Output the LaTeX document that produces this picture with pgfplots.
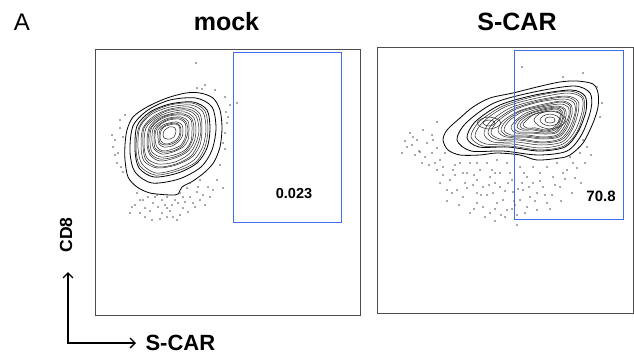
\documentclass[border=0pt]{standalone}
\usepackage{fontspec}
\setmainfont{Liberation Sans}
\usepackage{pgfplots}
\pgfplotsset{compat=1.18}
\usetikzlibrary{arrows.meta}
\definecolor{gate}{RGB}{66,110,235}
\begin{document}
\begin{tikzpicture}
\useasboundingbox (0pt,0pt) rectangle (634pt,-356pt);
\pgfplotsset{
  flow/.style={scale only axis, anchor=north west, axis line style={black!70, line width=0.8pt},
    ticks=none, clip=true, ymin=0, ymax=266},
  cont/.style={black!85, line width=0.5pt, smooth cycle},
  outc/.style={black, line width=0.8pt, smooth cycle},
  dots/.style={only marks, mark=*, mark size=0.5pt, mark options={draw=black!60, fill=black!60}},
  gatebox/.style={gate, line width=1pt},
}
% ---------------- mock ----------------
\begin{axis}[flow, at={(95pt,-49pt)}, width=265pt, height=266pt, xmin=0, xmax=265]
\addplot[gatebox] coordinates {(138,93) (246,93) (246,263) (138,263) (138,93)};
\addplot[dots] coordinates {(101,252) (102,227) (107,226) (130,218) (142,212) (131,203) (133,198) (132,192) (130,182) (128,172) (130,166) (128,127)
 (25,187) (28,178) (20,175) (18,168) (23,162) (26,148) (28,143) (22,152)
 (35,102) (45,102) (50,107) (45,115) (53,118) (58,112) (63,108) (67,102) (72,107) (77,110) (80,115) (83,112) (78,98) (88,107)
 (95,118) (98,112) (105,115) (102,123) (110,110) (115,118) (95,132) (105,135) (113,128) (42,122) (48,115) (62,120) (72,118)
 (85,122) (92,127) (57,95) (72,98) (37,108) (85,100) (67,115)
 (40,110) (55,104) (60,118) (65,96) (70,110) (75,104) (90,113) (93,103) (100,108) (108,120) (118,125) (122,135) (125,150)
 (20,160) (17,180) (25,195) (30,200) (110,230) (120,225) (135,210) (50,98) (82,95) (88,118) (103,128)};
\addplot[outc] coordinates {(105,222) (118,217) (125,205) (127,187) (125,168) (119,153) (110,143) (98,134) (87,128) (83,121) (75,120) (55,122) (42,128) (33,138) (30,155) (30,170) (32,185) (38,198) (52,208) (72,217) (91,222)};
\addplot[outc] coordinates {(101,217) (117,208) (121,187) (117,165) (106,148) (84,136) (57,132) (40,143) (35,163) (38,189) (53,205) (75,215)};
\addplot[outc] coordinates {(98,213) (112,205) (115,186) (112,167) (102,152) (83,142) (59,138) (44,147) (40,165) (42,189) (55,203) (75,211)};
\addplot[cont] coordinates {(97,212) (110,204) (113,186) (110,168) (101,153) (82,144) (60,140) (45,149) (41,166) (44,188) (56,202) (75,210)};
\addplot[cont] coordinates {(96,210) (108,203) (111,186) (108,169) (99,155) (82,146) (61,142) (47,151) (43,167) (45,188) (57,201) (75,208)};
\addplot[cont] coordinates {(94,208) (105,201) (107,186) (105,170) (97,158) (81,150) (62,147) (49,154) (46,169) (48,187) (59,199) (75,206)};
\addplot[cont] coordinates {(93,206) (103,200) (106,185) (103,171) (96,159) (81,151) (63,148) (51,155) (48,169) (49,187) (60,198) (75,205)};
\addplot[cont] coordinates {(91,205) (101,199) (104,185) (101,172) (94,161) (80,153) (63,151) (52,157) (49,170) (51,187) (61,197) (75,203)};
\addplot[cont] coordinates {(90,203) (99,197) (101,185) (99,173) (92,163) (80,157) (65,154) (55,160) (52,172) (54,187) (62,196) (75,201)};
\addplot[cont] coordinates {(89,201) (97,196) (99,185) (97,174) (91,164) (79,158) (65,156) (56,161) (53,172) (55,186) (63,195) (74,200)};
\addplot[cont] coordinates {(88,200) (96,195) (97,185) (96,174) (90,165) (79,160) (66,158) (57,163) (55,173) (56,186) (63,194) (74,199)};
\addplot[cont] coordinates {(86,198) (93,194) (94,185) (93,175) (88,168) (78,163) (67,161) (59,166) (57,174) (58,186) (65,193) (74,197)};
\addplot[cont] coordinates {(85,197) (91,193) (93,184) (91,176) (87,169) (78,164) (67,163) (60,167) (59,175) (60,186) (66,192) (74,196)};
\addplot[cont] coordinates {(84,196) (90,192) (91,184) (90,177) (86,170) (78,166) (68,164) (62,168) (60,176) (61,185) (66,191) (74,195)};
\addplot[cont] coordinates {(82,193) (87,190) (88,184) (87,178) (83,173) (77,169) (69,168) (64,171) (63,177) (63,185) (68,190) (74,192)};
\addplot[cont] coordinates {(81,192) (85,189) (86,184) (85,178) (82,174) (77,171) (70,170) (65,172) (64,178) (65,185) (69,189) (74,191)};
\addplot[cont] coordinates {(80,191) (84,189) (85,184) (84,179) (81,175) (76,172) (70,171) (66,174) (65,178) (66,184) (69,188) (74,190)};
\addplot[cont] coordinates {(78,188) (80,187) (81,184) (80,180) (79,178) (75,176) (72,176) (69,177) (68,180) (69,184) (71,186) (74,188)};
\node[font=\bfseries\fontsize{14.5}{17}\selectfont, anchor=base] at (axis cs:199,117) {0.023};
\end{axis}
% ---------------- S-CAR ----------------
\begin{axis}[flow, at={(377pt,-47pt)}, width=256pt, height=266pt, xmin=0, xmax=256]
\addplot[dots] coordinates {(30,166) (35,168) (40,173) (43,161) (50,170) (55,160) (60,165) (56,173) (48,156) (63,153) (66,146) (60,143)
 (73,133) (76,143) (83,150) (90,140) (93,150) (100,133) (103,143) (106,126) (110,150) (113,136) (116,120) (120,110) (123,126)
 (126,113) (130,103) (133,140) (136,121) (106,106) (113,100) (100,110) (93,100) (86,116) (80,123) (70,123) (63,130)
 (143,146) (150,136) (146,123) (153,116) (156,130) (163,140) (166,126) (170,146) (176,136) (180,150) (183,126) (190,143)
 (193,156) (196,150) (203,160) (206,173) (210,166) (150,106) (143,113) (160,103) (170,110) (123,140) (130,150) (156,146) (120,153)
 (145,246) (186,236) (206,240) (220,226) (225,210) (223,196) (46,183) (36,176) (60,191)
 (96,128) (110,118) (118,130) (128,122) (138,108) (145,130) (160,120) (175,118) (140,98) (100,120) (88,130) (78,138)
 (70,112) (58,150) (68,160) (100,150) (115,143) (135,133) (186,140) (198,135) (118,104) (128,96) (135,104) (148,100)
 (75,120) (82,108) (90,125) (97,138) (104,118) (108,96) (112,128) (118,140) (124,98) (131,130) (137,112) (141,124)
 (147,140) (152,126) (158,112) (163,132) (168,118) (173,104) (178,128) (184,112) (188,134) (195,120) (200,145) (204,130)
 (208,150) (214,158) (140,88) (118,92) (97,104) (86,140) (78,148) (66,138) (52,148) (45,150) (38,158) (25,160) (28,172)
 (33,180) (42,162) (55,178)};
\addplot[outc] coordinates {(200,232) (216,229) (221,220) (221,206) (216,190) (206,170) (193,158) (183,155) (160,153) (143,158) (120,160) (103,158) (83,158) (71,163) (66,173) (70,183) (83,195) (96,206) (113,215) (136,220) (160,226) (183,231)};
\addplot[outc] coordinates {(197,227) (213,220) (214,204) (205,179) (190,162) (161,158) (126,162) (94,162) (80,173) (89,190) (117,210) (157,221)};
\addplot[outc] coordinates {(194,223) (208,217) (209,202) (201,181) (188,166) (162,162) (131,166) (102,166) (90,175) (98,191) (123,208) (158,218)};
\addplot[cont] coordinates {(192,222) (206,216) (207,202) (200,181) (187,167) (163,163) (133,167) (106,167) (94,176) (102,191) (126,207) (159,217)};
\addplot[cont] coordinates {(191,220) (205,215) (205,201) (198,182) (186,169) (163,165) (135,169) (109,169) (98,177) (106,191) (128,206) (160,215)};
\addplot[cont] coordinates {(189,217) (201,212) (201,200) (195,183) (185,171) (164,168) (139,171) (116,171) (107,179) (113,191) (133,205) (161,213)};
\addplot[cont] coordinates {(188,216) (199,211) (199,200) (194,184) (184,173) (165,170) (141,173) (120,173) (111,180) (117,191) (136,204) (162,212)};
\addplot[cont] coordinates {(187,214) (197,210) (198,200) (192,184) (183,174) (165,171) (143,174) (123,174) (114,180) (120,191) (137,203) (162,211)};
\addplot[cont] coordinates {(185,212) (194,208) (195,199) (190,185) (182,176) (166,174) (147,176) (129,176) (121,182) (126,192) (142,202) (163,208)};
\addplot[cont] coordinates {(184,211) (193,207) (193,198) (189,186) (181,177) (166,175) (148,177) (131,177) (124,183) (129,192) (144,202) (164,207)};
\addplot[cont] coordinates {(183,209) (191,206) (192,198) (187,186) (180,178) (166,176) (150,178) (134,178) (127,183) (132,192) (145,201) (164,206)};
\addplot[cont] coordinates {(181,207) (188,204) (189,197) (185,187) (179,180) (167,179) (153,180) (139,180) (134,185) (138,192) (149,200) (165,205)};
\addplot[cont] coordinates {(181,206) (187,203) (187,197) (184,188) (178,181) (167,180) (154,181) (142,181) (137,185) (140,192) (151,199) (166,204)};
\addplot[cont] coordinates {(180,205) (185,202) (186,197) (183,188) (178,183) (168,181) (156,183) (145,183) (140,186) (143,192) (153,199) (166,203)};
\addplot[cont] coordinates {(179,204) (184,201) (184,196) (182,189) (177,184) (168,182) (157,184) (147,184) (143,187) (146,192) (155,198) (167,202)};
\addplot[cont] coordinates {(178,202) (183,200) (183,196) (180,189) (176,185) (168,183) (159,185) (150,185) (146,188) (149,192) (156,198) (167,201)};
\addplot[cont] coordinates {(189,193) (184,199) (173,202) (162,199) (157,193) (162,187) (173,184) (184,187)};
\addplot[cont] coordinates {(183,193) (180,197) (173,199) (166,197) (163,193) (166,189) (173,187) (180,189)};
\addplot[cont] coordinates {(178,193) (177,195) (173,196) (169,195) (168,193) (169,191) (173,190) (177,191)};
\addplot[cont] coordinates {(124,190) (120,194) (112,196) (104,194) (100,190) (104,186) (112,184) (120,186)};
\addplot[cont] coordinates {(118,190) (116,192) (112,193) (108,192) (106,190) (108,188) (112,187) (116,188)};
\addplot[gatebox] coordinates {(137,94) (246,94) (246,263) (137,263) (137,94)};
\node[font=\bfseries\fontsize{15}{18}\selectfont, anchor=base] at (axis cs:224,112) {70.8};
\end{axis}
% ---------------- annotations ----------------
\node[font=\fontsize{24}{28}\selectfont, anchor=base] at (22pt,-30pt) {A};
\node[font=\bfseries\fontsize{25}{30}\selectfont, anchor=base] at (226.5pt,-30pt) {mock};
\node[font=\bfseries\fontsize{25}{30}\selectfont, anchor=base] at (517pt,-30pt) {S-CAR};
\node[font=\bfseries\fontsize{17.5}{21}\selectfont, rotate=90] at (66pt,-235pt) {CD8};
\node[font=\bfseries\fontsize{22}{26}\selectfont, anchor=base west] at (142pt,-350pt) {S-CAR};
\draw[line width=1.3pt, {Straight Barb[length=5pt,width=10pt]}-{Straight Barb[length=5pt,width=10pt]}]
  (68pt,-272pt) -- (68pt,-343pt) -- (136pt,-343pt);
\end{tikzpicture}
\end{document}
